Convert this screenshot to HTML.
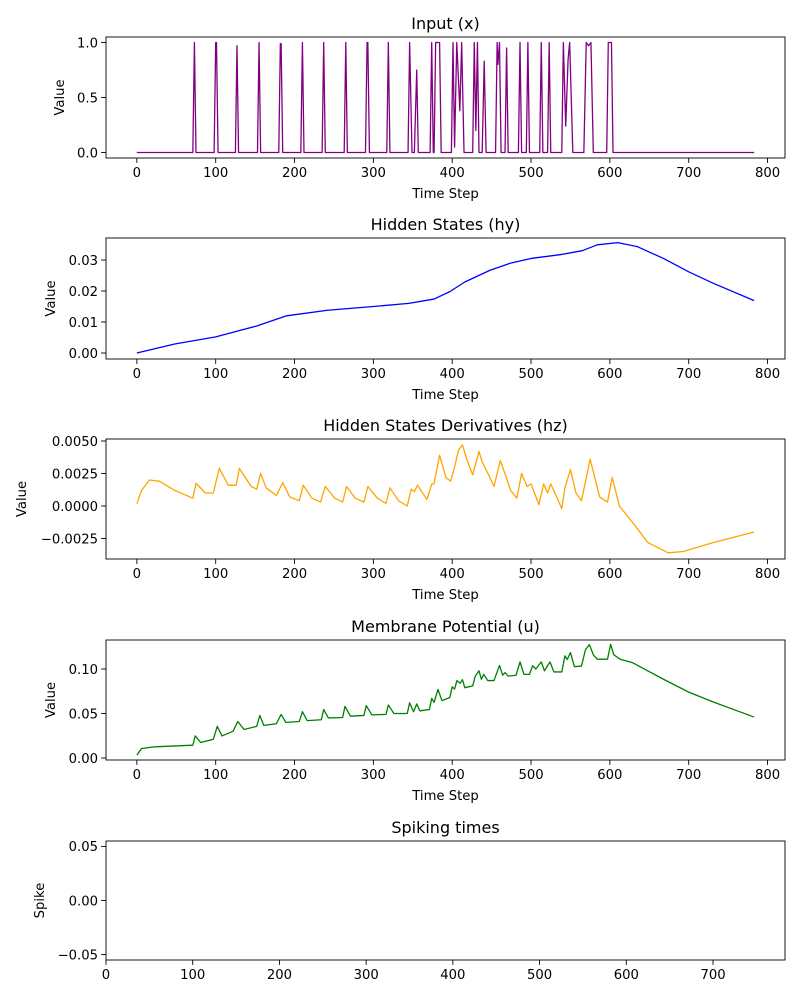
<!DOCTYPE html>
<html><head><meta charset="utf-8"><style>
html,body{margin:0;padding:0;background:#fff;width:800px;height:1000px;overflow:hidden}
svg text{font-family:"DejaVu Sans","Liberation Sans",sans-serif;fill:#000}
</style></head><body>
<svg id="fig" width="800" height="1000" xmlns="http://www.w3.org/2000/svg"></svg>
<script>
// ---------- data ----------
const inputT=[0,71,73,75,98,100,101,103,125,127,129,153,155,157,180,182,183,185,208,210,212,235,237,239,263,265,267,290,292,293,295,317,319,321,344,346,349,352,355,357,372,374,376,377,379,384,386,399,401,403,405.8,409.7,412,415,426,428,430,432,434,438,440.6,443,455,457,458,460,462,467,469,471,484,486,488,494,496,498,511,513,515,521,523,525,539,541,544,547,549,553,567,570,573,576,579,596,598,602,604,783];
const inputV=[0,0,1,0,0,1,1,0,0,0.97,0,0,1,0,0,0.99,0.99,0,0,1,0,0,1,0,0,1,0,0,1,1,0,0,1,0,0,1,0,0,0.75,0,0,1,0,0,1,1,0,0,1,0.05,1,0.38,1,0,0,1,0.2,1,0,0,0.83,0,0,1,0.8,1,0,0,0.95,0,0,1,0,0,1,0,0,1,0,0,1,0,0,1,0.24,0.85,1,0,0,1,0.97,1,0,0,1,1,0,0];
const hyT=[0,48,100,152,190,242,300,345,377,397,416,448,474,500,539,565,584,610,635,668,700,732,783];
const hyV=[0,0.0029,0.0052,0.0087,0.012,0.0138,0.015,0.016,0.0174,0.0198,0.0229,0.0267,0.029,0.0305,0.0318,0.033,0.0349,0.0356,0.0343,0.0305,0.0262,0.0224,0.0169];
const hzT=[0,6,16,29,48,71,75,87,97,104.5,116,126,130,145,152,157,164,177,185,194,206,211,222,233,239,251,261,266,277,288,293,305,316,321,332,343,348,352,356,368,374,377,384,392,398,403,408,413,419,426,434,438,447,453,461,468,474,482,488,495,500,510,516,521,525,539,543,550,557,564,575,587,597,603,612,628,648,674,693,732,783];
const hzV=[0.00018,0.0012,0.002,0.0019,0.0012,0.0006,0.00175,0.001,0.001,0.0029,0.0016,0.0016,0.0029,0.0015,0.0013,0.0025,0.0014,0.0008,0.0018,0.0007,0.0004,0.0016,0.0006,0.0003,0.0015,0.0006,0.0003,0.0015,0.0006,0.0003,0.0015,0.0006,0.0002,0.0014,0.0004,0,0.0013,0.0011,0.0016,0.0005,0.0017,0.0017,0.0039,0.0022,0.0019,0.003,0.0043,0.0047,0.0035,0.0024,0.0042,0.0034,0.0023,0.0015,0.0035,0.0023,0.0012,0.0006,0.0025,0.0015,0.0017,0.0001,0.0017,0.001,0.0017,-0.0002,0.0014,0.0028,0.001,0.0004,0.0036,0.0007,0.0003,0.0022,0,-0.0012,-0.0028,-0.0036,-0.0035,-0.0028,-0.002];
const uT=[0,6,23,71,74,81,97,102,108,122,128,136,152,156,161,177,183,189,206,210,216,234,237,243,261,264,271,288,291,298,316,319,326,343,346,351,355,359,371,374,377,382,387,397,400,403,406,410,413,416,426,429,434,437,440,445,453,460,464,467,471,481,486,491,498,502,506,513,517,524,529,539,543,546,550,555,564,569,574,579,584,597,601,605,613,629,648,668,700,732,783];
const uV=[0.0033,0.0107,0.0126,0.0144,0.0248,0.0174,0.021,0.0356,0.0248,0.03,0.041,0.032,0.0356,0.0478,0.0367,0.0385,0.049,0.04,0.041,0.052,0.042,0.043,0.0544,0.045,0.0455,0.058,0.047,0.0478,0.0589,0.0485,0.049,0.0596,0.05,0.05,0.062,0.052,0.0607,0.053,0.0544,0.067,0.0626,0.077,0.0644,0.068,0.08,0.0774,0.087,0.084,0.088,0.079,0.081,0.0915,0.098,0.0885,0.094,0.087,0.087,0.104,0.093,0.096,0.092,0.093,0.108,0.094,0.094,0.1037,0.1,0.108,0.098,0.108,0.0967,0.0967,0.1148,0.1107,0.1185,0.1026,0.1033,0.1215,0.1274,0.116,0.111,0.111,0.1278,0.116,0.111,0.107,0.098,0.0885,0.074,0.0626,0.046];
const xTicks=[0,100,200,300,400,500,600,700,800];
const xTicks5=[0,100,200,300,400,500,600,700];
const yTicks1=[0,0.5,1.0], yTickLabels1=["0.0","0.5","1.0"];
const yTicks2=[0,0.01,0.02,0.03], yTickLabels2=["0.00","0.01","0.02","0.03"];
const yTicks3=[-0.0025,0,0.0025,0.005], yTickLabels3=["\u22120.0025","0.0000","0.0025","0.0050"];
const yTicks4=[0,0.05,0.10], yTickLabels4=["0.00","0.05","0.10"];
const yTicks5=[-0.05,0,0.05], yTickLabels5=["\u22120.05","0.00","0.05"];

const NS="http://www.w3.org/2000/svg";
const svg=document.getElementById('fig');
function mk(tag,attrs,parent){const e=document.createElementNS(NS,tag);for(const k in attrs)e.setAttribute(k,attrs[k]);(parent||svg).appendChild(e);return e;}

function panel(o){
  const g=mk('g',{});
  
  
  const L=106,R=785,T=o.top,B=o.bottom;
  const xs=v=>L+(v-o.xmin)/(o.xmax-o.xmin)*(R-L);
  const ys=v=>B-(v-o.ymin)/(o.ymax-o.ymin)*(B-T);
  if(o.t){
    let d='';o.t.forEach((t,i)=>{d+=(i?'L':'M')+xs(t).toFixed(2)+','+ys(o.v[i]).toFixed(2);});
    const p=mk('path',{d:d,fill:'none',stroke:o.color,'stroke-width':1.3,'stroke-linejoin':'round'},g);
    
    
  }
  const fr=mk('rect',{x:L,y:T,width:R-L,height:B-T,fill:'none',stroke:'#000','stroke-width':0.9},g);
  
  
  o.xt.forEach(v=>{const x=xs(v);
    mk('line',{x1:x,x2:x,y1:B,y2:B+4.9,stroke:'#000','stroke-width':0.9},g);
    const t=mk('text',{x:x,y:B+19,'font-size':13.2,'text-anchor':'middle'},g);t.textContent=v;
    
    });
  o.yt.forEach((v,i)=>{const y=ys(v);
    mk('line',{x1:L-4.9,x2:L,y1:y,y2:y,stroke:'#000','stroke-width':0.9},g);
    const t=mk('text',{x:L-8,y:y+4.8,'font-size':13.2,'text-anchor':'end'},g);t.textContent=o.ytl[i];
    
    });
  const ti=mk('text',{x:(L+R)/2,y:T-8,'font-size':16,'text-anchor':'middle'},g);ti.textContent=o.title;
  
  
  if(o.xlabel){const xl=mk('text',{x:(L+R)/2,y:B+40,'font-size':13.2,'text-anchor':'middle'},g);xl.textContent=o.xlabel;
    
    }
  const yl=mk('text',{x:0,y:0,'font-size':13.2,'text-anchor':'middle',transform:'translate('+(o.ylx)+','+((T+B)/2)+') rotate(-90)'},g);yl.textContent=o.ylabel;
  
  
}
panel({name:'input-panel',top:37,bottom:158,xmin:-39.15,xmax:822.15,ymin:-0.05,ymax:1.05,t:inputT,v:inputV,color:'purple',xt:xTicks,yt:yTicks1,ytl:yTickLabels1,title:'Input (x)',xlabel:'Time Step',ylabel:'Value',ylx:64});
panel({name:'hy-panel',top:238,bottom:359,xmin:-39.15,xmax:822.15,ymin:(353-359)/3100,ymax:(353-238)/3100,t:hyT,v:hyV,color:'blue',xt:xTicks,yt:yTicks2,ytl:yTickLabels2,title:'Hidden States (hy)',xlabel:'Time Step',ylabel:'Value',ylx:55});
panel({name:'hz-panel',top:439,bottom:559,xmin:-39.15,xmax:822.15,ymin:-(559-506)/13000,ymax:(506-439)/13000,t:hzT,v:hzV,color:'orange',xt:xTicks,yt:yTicks3,ytl:yTickLabels3,title:'Hidden States Derivatives (hz)',xlabel:'Time Step',ylabel:'Value',ylx:26});
panel({name:'u-panel',top:640,bottom:760,xmin:-39.15,xmax:822.15,ymin:-(760-758)/890,ymax:(758-640)/890,t:uT,v:uV,color:'green',xt:xTicks,yt:yTicks4,ytl:yTickLabels4,title:'Membrane Potential (u)',xlabel:'Time Step',ylabel:'Value',ylx:55});
panel({name:'spike-panel',top:841,bottom:960,xmin:0,xmax:783,ymin:-0.055,ymax:0.055,color:'black',xt:xTicks5,yt:yTicks5,ytl:yTickLabels5,title:'Spiking times',xlabel:'',ylabel:'Spike',ylx:44});
</script>
</body></html>
